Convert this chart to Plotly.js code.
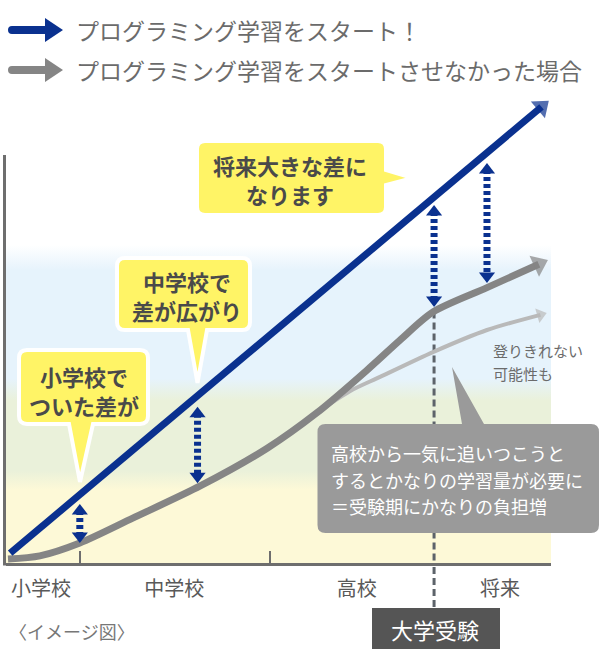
<!DOCTYPE html>
<html><head><meta charset="utf-8">
<script src="https://cdn.plot.ly/plotly-3.0.1.min.js"></script>
<style>html,body{margin:0;padding:0;background:#fff}#chart{width:600px;height:660px}</style>
</head><body><div id="chart"></div>
<script>
// ---------------- DATA (chart units: x = progress 0..100, y = ability 0..100) ----------------
const stageLabels  = ['小学校', '中学校', '高校', '将来'];
const stageCenters = [6.1, 30.8, 64.6, 91.1];
const stageBounds  = [13.3, 48.5];
const examX = 78.9;
const examLabel = '大学受験';

const learnX = [0.4, 98.8];
const learnY = [1.5, 98.5];

const noLearnX = [0, 5.9, 13.3, 23.1, 35.6, 48.0, 57.2, 66.5, 72.6, 78.7, 88.7, 98.3];
const noLearnY = [0.2, 0.9, 3.7, 9.1, 16.1, 24.3, 32.0, 41.3, 47.8, 53.9, 59.2, 64.3];

const stallX = [57.2, 63.3, 68.9, 78.7, 88.7, 98.6];
const stallY = [32.0, 36.7, 39.8, 45.2, 50.0, 53.3];

const gapX      = [13.3, 35.1, 78.9, 88.7];
const gapTop    = [12.2, 33.3, 77.2, 86.3];
const gapBottom = [3.7, 16.7, 55.0, 60.2];

const legendLabels = ['プログラミング学習をスタート！', 'プログラミング学習をスタートさせなかった場合'];
const bubble1 = ['小学校で', 'ついた差が'];
const bubble2 = ['中学校で', '差が広がり'];
const bubble3 = ['将来大きな差に', 'なります'];
const grayNote = ['高校から一気に追いつこうと', 'するとかなりの学習量が必要に', '＝受験期にかなりの負担増'];
const stallNote = ['登りきれない', '可能性も'];
const caption = '〈イメージ図〉';

// ---------------- GEOMETRY / STYLE ----------------
const FONT = 'Noto Sans CJK JP, Noto Sans, sans-serif';
const BLUE = '#0a318f', GRAY = '#858585', LGRAY = '#b9b9b9', YEL = '#fff466';
const W = 600, H = 660, L = 6, R = 551, T = 90, B = 563;
const XS = 5.4, XPX0 = 8, YS = 4.6, YPX0 = 560;
const xRange = [(L - XPX0) / XS, (R - XPX0) / XS];
const yRange = [(YPX0 - B) / YS, (YPX0 - T) / YS];
const fx = v => XPX0 + XS * v;
const uy = p => (YPX0 - p) / YS;
const PX = p => (p - L) / (R - L);
const PY = p => (B - p) / (B - T);
const P = (x, y) => PX(x).toFixed(5) + ',' + PY(y).toFixed(5);

function interp(xs, ys, x) {
  for (let i = 1; i < xs.length; i++) {
    if (x <= xs[i]) { const t = (x - xs[i-1]) / (xs[i] - xs[i-1]); return ys[i-1] + t * (ys[i] - ys[i-1]); }
  }
  return ys[ys.length - 1];
}

function callout(x0, y0, x1, y1, r, side, a, b, tx, ty) {
  let d = 'M' + P(x0 + r, y0);
  if (side === 'top') d += 'L' + P(a, y0) + 'L' + P(tx, ty) + 'L' + P(b, y0);
  d += 'L' + P(x1 - r, y0) + 'Q' + P(x1, y0) + ' ' + P(x1, y0 + r);
  if (side === 'right') d += 'L' + P(x1, a) + 'L' + P(tx, ty) + 'L' + P(x1, b);
  d += 'L' + P(x1, y1 - r) + 'Q' + P(x1, y1) + ' ' + P(x1 - r, y1);
  if (side === 'bottom') d += 'L' + P(b, y1) + 'L' + P(tx, ty) + 'L' + P(a, y1);
  d += 'L' + P(x0 + r, y1) + 'Q' + P(x0, y1) + ' ' + P(x0, y1 - r);
  d += 'L' + P(x0, y0 + r) + 'Q' + P(x0, y0) + ' ' + P(x0 + r, y0) + 'Z';
  return d;
}

function ann(text, px, py, size, color, xanchor, bold) {
  return {xref: 'paper', yref: 'paper', x: PX(px), y: PY(py), text: bold ? '<b>' + text + '</b>' : text,
    showarrow: false, xanchor: xanchor || 'center', yanchor: 'middle', align: 'center',
    font: {family: FONT, size: size, color: color}};
}

// ---------------- TRACES ----------------
const traces = [];
const bgTop = uy(245);
traces.push({
  x: [xRange[0], xRange[1], xRange[1], xRange[0], xRange[0]],
  y: [yRange[0], yRange[0], bgTop, bgTop, yRange[0]],
  mode: 'lines', fill: 'toself', line: {width: 0}, hoverinfo: 'skip',
  fillgradient: {type: 'vertical', colorscale: [
    [0, '#fdf9d7'], [0.23, '#fdf9d7'], [0.29, '#eaf1da'], [0.51, '#eaf1da'],
    [0.58, '#e6f3fc'], [0.92, '#e6f3fc'], [1, '#ffffff']]}
});
// exam dashed line (inside plot)
traces.push({
  x: [examX, examX], y: [interp(noLearnX, noLearnY, examX), yRange[0]],
  mode: 'lines', line: {color: '#5d636a', width: 3, dash: '7px,4px'}, hoverinfo: 'skip'
});
function arrowLine(xs, ys, color, width, head) {
  return {x: xs, y: ys, mode: 'lines+markers', cliponaxis: false, hoverinfo: 'skip',
    line: {color: color, width: width, shape: 'spline', smoothing: 0.8},
    marker: {symbol: 'triangle-up', angleref: 'previous', color: color,
      size: xs.map((_, i) => i === xs.length - 1 ? head : 0), line: {width: 0}}};
}
traces.push(arrowLine(stallX, stallY, LGRAY, 4, 13));
traces.push(arrowLine(noLearnX, noLearnY, GRAY, 7, 20));
traces.push(arrowLine(learnX, learnY, BLUE, 7, 19));
const gapHead = 14, gapOff = (gapHead / 2) / YS;
gapX.forEach((g, i) => {
  traces.push({x: [g, g], y: [gapTop[i] - gapOff, gapBottom[i] + gapOff], mode: 'lines+markers',
    cliponaxis: false, hoverinfo: 'skip',
    line: {color: BLUE, width: 7, dash: '4px,3px'},
    marker: {symbol: ['triangle-up', 'triangle-down'], size: gapHead, color: BLUE, line: {width: 0}}});
});

// ---------------- SHAPES ----------------
const examPx = fx(examX);
const shapes = [
  {type: 'line', xref: 'paper', yref: 'paper', x0: PX(4.5), x1: PX(4.5), y0: PY(155), y1: PY(565.5),
   line: {color: '#6e6e6e', width: 3}, layer: 'above'},
  {type: 'line', xref: 'paper', yref: 'paper', x0: PX(examPx), x1: PX(examPx), y0: PY(567), y1: PY(608),
   line: {color: '#5d636a', width: 3, dash: '7px,4px'}, layer: 'above'},
  {type: 'rect', xref: 'paper', yref: 'paper', x0: PX(372), x1: PX(500), y0: PY(608), y1: PY(649),
   fillcolor: '#555555', line: {width: 0}, layer: 'above'},
  {type: 'path', xref: 'paper', yref: 'paper', fillcolor: BLUE, line: {width: 0}, layer: 'above',
   path: 'M' + P(12, 26) + 'L' + P(45, 26) + 'L' + P(45, 18) + 'L' + P(63, 30) + 'L' + P(45, 42) + 'L' + P(45, 34) + 'L' + P(12, 34) + 'Q' + P(8, 34) + ' ' + P(8, 30) + 'Q' + P(8, 26) + ' ' + P(12, 26) + 'Z'},
  {type: 'path', xref: 'paper', yref: 'paper', fillcolor: GRAY, line: {width: 0}, layer: 'above',
   path: 'M' + P(12, 66) + 'L' + P(45, 66) + 'L' + P(45, 58) + 'L' + P(63, 70) + 'L' + P(45, 82) + 'L' + P(45, 74) + 'L' + P(12, 74) + 'Q' + P(8, 74) + ' ' + P(8, 70) + 'Q' + P(8, 66) + ' ' + P(12, 66) + 'Z'},
  {type: 'path', xref: 'paper', yref: 'paper', fillcolor: YEL, line: {color: '#ffffff', width: 4}, layer: 'above',
   path: callout(19, 350, 148, 424, 8, 'bottom', 69, 93, 80, 482)},
  {type: 'path', xref: 'paper', yref: 'paper', fillcolor: YEL, line: {color: '#ffffff', width: 4}, layer: 'above',
   path: callout(117, 258, 250, 330, 8, 'bottom', 188, 207, 197.5, 383)},
  {type: 'path', xref: 'paper', yref: 'paper', fillcolor: YEL, line: {color: '#ffffff', width: 4}, layer: 'above',
   path: callout(197, 141, 386, 215, 8, 'right', 170, 185, 413, 178)},
  {type: 'path', xref: 'paper', yref: 'paper', fillcolor: '#9a9a9a', line: {width: 0}, layer: 'above',
   path: callout(317.5, 424, 599, 533, 8, 'top', 462, 484, 452, 367)}
];

// ---------------- ANNOTATIONS ----------------
const TXT = '#4a4a4a';
const annotations = [
  ann(legendLabels[0], 74, 30, 23, '#6b6b6b', 'left'),
  ann(legendLabels[1], 74, 70, 23, '#6b6b6b', 'left'),
  ann(bubble1.join('<br>'), 84, 390, 22, TXT, 'center', true),
  ann(bubble2.join('<br>'), 187, 295, 22, TXT, 'center', true),
  ann(bubble3.join('<br>'), 290, 179, 22, TXT, 'center', true),
  ann(grayNote[0], 329, 453, 18, '#ffffff', 'left'),
  ann(grayNote[1], 329, 479.5, 18, '#ffffff', 'left'),
  ann(grayNote[2], 329, 506, 18, '#ffffff', 'left'),
  ann(stallNote[0], 491, 350, 15, '#6b6b6b', 'left'),
  ann(stallNote[1], 491, 373, 15, '#6b6b6b', 'left'),
  ann(caption, 7, 631, 18, '#777777', 'left'),
  ann(examLabel, examPx + 1, 629, 22, '#ffffff', 'center')
];

const layout = {
  width: W, height: H, margin: {l: L, r: W - R, t: T, b: H - B, pad: 0},
  paper_bgcolor: '#ffffff', plot_bgcolor: 'rgba(0,0,0,0)', showlegend: false,
  xaxis: {range: xRange, showgrid: false, zeroline: false, showline: true, linecolor: '#6e6e6e', linewidth: 3,
    tickmode: 'array', tickvals: stageCenters, ticktext: stageLabels, ticks: '', ticklabelstandoff: 6,
    tickfont: {family: FONT, size: 20, color: '#595959'},
    minor: {tickmode: 'array', tickvals: stageBounds, ticks: 'inside', ticklen: 12, tickwidth: 2, tickcolor: '#6e6e6e', showgrid: false},
    fixedrange: true},
  yaxis: {range: yRange, showgrid: false, zeroline: false, showline: false, showticklabels: false, ticks: '', fixedrange: true},
  shapes: shapes, annotations: annotations
};

Plotly.newPlot('chart', traces, layout, {displayModeBar: false, staticPlot: true});
</script>
</body></html>
